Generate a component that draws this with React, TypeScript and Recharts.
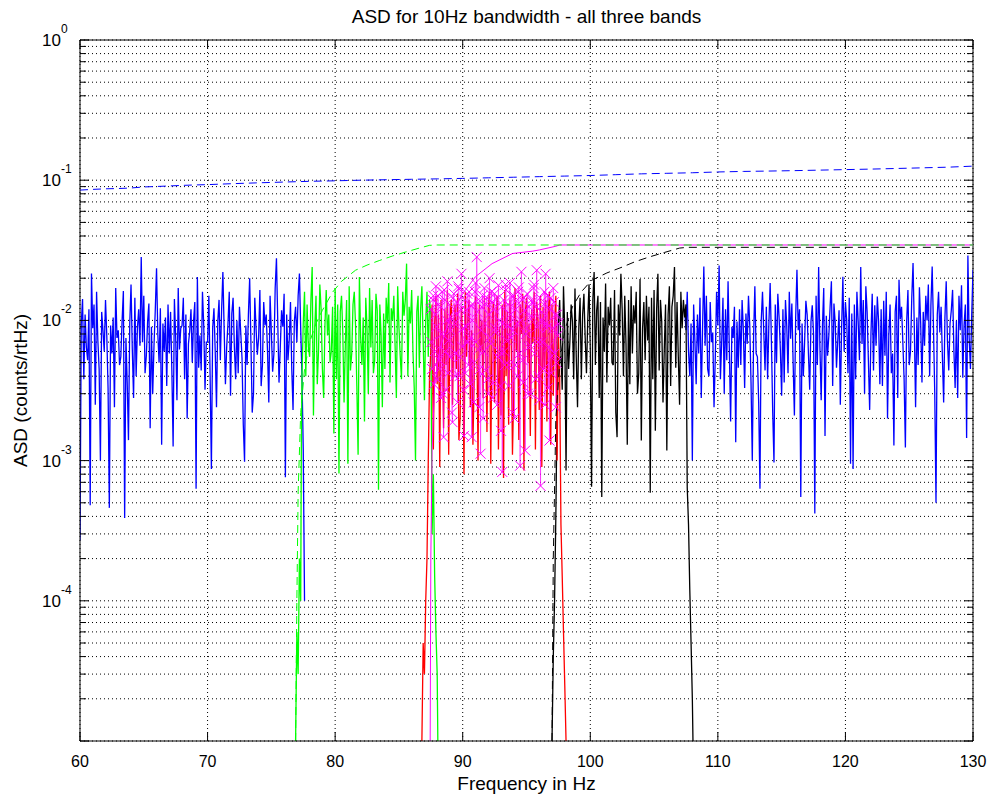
import { LineChart, Line, XAxis, YAxis, CartesianGrid, ReferenceLine } from "recharts";

// ASD values are typed in units of 1e-4 counts/rtHz, one bin every 0.1 Hz
const STEP = 0.1;

const BLUE_LO_START = 60.0;
const BLUE_LO = [
  2.7, 95, 142, 38, 110, 64, 52, 120, 4.8, 216,
  88, 130, 25, 160, 72, 45, 10, 115, 85, 60,
  140, 78, 33, 4.6, 92, 58, 105, 24, 170, 75,
  85, 48, 55, 100, 162, 3.9, 75, 36, 14, 95,
  180, 62, 28, 145, 40, 88, 120, 66, 283, 70,
  150, 42, 56, 98, 132, 17, 90, 30, 66, 118,
  235, 80, 50, 122, 13, 95, 60, 105, 34, 130,
  58, 115, 44, 12.6, 142, 76, 27, 170, 62, 88,
  92, 145, 38, 110, 20, 68, 84, 120, 50, 98,
  135, 6.3, 204, 46, 78, 44, 160, 92, 32, 70,
  70, 150, 40, 8.7, 88, 122, 60, 24, 98, 140,
  52, 118, 221, 86, 35, 65, 95, 160, 29, 112,
  145, 65, 38, 100, 42, 125, 82, 54, 18, 9.8,
  92, 48, 110, 200, 68, 22, 30, 145, 88, 57,
  75, 165, 34, 48, 135, 92, 110, 60, 26, 150,
  82, 43, 58, 170, 277, 100, 36, 64, 118, 90,
  155, 7.6, 110, 52, 72, 135, 45, 23, 98, 125,
  70, 150, 216, 88, 40, 12, 1,
];

const BLUE_HI_START = 107.4;
const BLUE_HI = [
  120, 85, 160, 60, 40, 95, 10, 130, 72, 35,
  110, 58, 145, 28, 88, 242, 66, 150, 45, 40,
  135, 70, 82, 24, 55, 160, 92, 246, 38, 70,
  145, 30, 120, 52, 190, 62, 19, 90, 75, 125,
  13.5, 98, 46, 120, 48, 140, 85, 33, 112, 68,
  150, 92, 36, 10, 76, 175, 58, 55, 26, 6.3,
  100, 160, 82, 44, 125, 38, 95, 185, 70, 22,
  9.7, 130, 50, 155, 105, 62, 29, 120, 36, 140,
  92, 42, 160, 74, 132, 50, 21, 105, 230, 85,
  120, 5.5, 95, 40, 70, 138, 110, 58, 32, 98,
  128, 80, 4.2, 150, 48, 240, 65, 27, 92, 170,
  15, 108, 56, 78, 125, 190, 34, 132, 96, 46,
  72, 118, 25, 88, 205, 60, 135, 100, 42, 145,
  9.5, 112, 8.7, 130, 38, 160, 98, 52, 240, 68,
  140, 30, 175, 115, 52, 23, 80, 155, 44, 128,
  66, 148, 98, 35, 120, 34, 138, 56, 160, 20,
  78, 130, 42, 58, 12.8, 115, 150, 28, 195, 102,
  125, 70, 38, 12.4, 98, 165, 48, 60, 145, 257,
  88, 24, 105, 48, 172, 95, 36, 115, 66, 150,
  100, 180, 40, 128, 242, 90, 31, 5.0, 110, 160,
  82, 125, 55, 26, 105, 190, 70, 44, 95, 118,
  165, 62, 33, 100, 28, 150, 85, 178, 39, 92,
  130, 14.5, 290, 75, 45, 110, 230,
];

// band 1: 77.5 - 87.5 Hz
const GREEN_START = 77.5;
const GREEN = [
  95, 160, 40, 130, 65, 55, 140, 240, 21, 88,
  150, 35, 62, 180, 120, 45, 28, 92, 165, 78,
  110, 50, 60, 125, 15.6, 170, 38, 130, 8.1, 115,
  150, 82, 26, 68, 140, 9.5, 175, 44, 58, 130,
  160, 92, 34, 11, 204, 76, 48, 105, 19, 145,
  88, 30, 170, 64, 140, 42, 52, 155, 118, 6.2,
  130, 80, 24, 112, 45, 145, 95, 185, 36, 122,
  100, 150, 66, 28, 175, 90, 56, 38, 160, 108,
  140, 254, 40, 125, 95, 165, 60, 33, 10, 115,
  150, 46, 120, 175, 72, 27, 100, 160, 55, 140,
  110,
];
const GREEN_RISE = [[76.9, 0.1], [77.0, 0.6], [77.1, 0.3], [77.2, 2], [77.3, 1], [77.35, 12], [77.4, 40]];
const GREEN_FALL = [[87.6, 3], [87.7, 8], [87.8, 1.5], [87.9, 0.6], [88.0, 0.3], [88.05, 0.1]];

// band 2: 87.5 - 97.5 Hz
const RED_START = 87.5;
const RED = [
  60, 130, 12, 95, 150, 35, 110, 9, 140, 75,
  17, 120, 48, 165, 11, 100, 140, 25, 88, 130,
  45, 155, 14, 20, 125, 70, 8, 160, 55, 105,
  140, 24, 85, 13, 38, 150, 95, 10, 130, 60,
  100, 28, 145, 72, 16, 120, 160, 9.5, 95, 135,
  26, 110, 150, 12, 90, 21, 130, 7.5, 165, 40,
  115, 18, 140, 85, 11, 32, 170, 60, 100, 14,
  130, 80, 155, 8.5, 110, 145, 50, 95, 15, 120,
  70, 160, 12, 135, 100, 23, 150, 9, 125, 45,
  140, 19, 110, 160, 13, 130, 29, 95, 150, 10,
  80,
];
const RED_RISE = [[86.8, 0.1], [86.9, 0.5], [87.0, 0.3], [87.1, 1], [87.2, 2], [87.3, 10], [87.4, 40]];
const RED_FALL = [[97.6, 40], [97.7, 3.5], [97.8, 1.5], [97.9, 0.6], [98.0, 0.25], [98.1, 0.1]];

// magenta x-marked samples on the 0.1 Hz bins and half way between them
const MAGENTA_START = 87.5;
const MAGENTA = [
  120, 45, 150, 60, 175, 38, 130, 45, 28, 160,
  14.7, 140, 32, 190, 72, 55, 105, 18.8, 155, 40,
  135, 26, 168, 55, 215, 88, 15, 42, 118, 70,
  160, 35, 14.7, 130, 50, 185, 283, 62, 24, 11.2,
  125, 20, 170, 44, 145, 30, 200, 68, 135, 36,
  155, 82, 25, 178, 60, 16.3, 8.3, 140, 48, 165,
  92, 34, 185, 75, 22, 150, 48, 138, 40, 172,
  9.2, 222, 52, 145, 11.8, 88, 30, 125, 66, 140,
  105, 180, 38, 228, 70, 27, 6.6, 115, 45, 160,
  215, 88, 33, 13.9, 145, 56, 170, 58, 24, 110,
  95,
];
const MAGENTA_MID_START = 87.55;
const MAGENTA_MID = [
  70, 140, 35, 110, 90, 150, 52, 125, 80, 30,
  165, 60, 100, 42, 130, 85, 22, 145, 95, 58,
  110, 175, 40, 120, 65, 32, 140, 90, 155, 48,
  75, 128, 100, 26, 160, 70, 115, 44, 138, 85,
  150, 60, 95, 130, 38, 110, 75, 160, 28, 120,
  88, 142, 55, 100, 34, 125, 95, 60, 180, 72,
  130, 48, 110, 150, 85, 20, 120, 95, 160, 58,
  100, 140, 36, 118, 80, 155, 64, 105, 30, 135,
  170, 58, 125, 90, 40, 145, 100, 70, 130, 25,
  95, 150, 65, 120, 42, 88, 135, 110, 50, 78,
];

// band 3: 97.5 - 107.5 Hz
const BLACK_START = 97.5;
const BLACK = [
  95, 140, 60, 32, 175, 85, 8.5, 115, 45, 70,
  130, 98, 38, 169, 55, 24, 90, 145, 38, 110,
  155, 75, 42, 100, 180, 62, 6.5, 140, 221, 48,
  118, 150, 28, 135, 5.5, 105, 60, 183, 36, 125,
  92, 145, 50, 48, 165, 22, 14.7, 130, 78, 215,
  120, 40, 150, 68, 13, 140, 35, 175, 58, 128,
  95, 160, 30, 42, 197, 13.9, 88, 135, 52, 150,
  72, 125, 5.9, 145, 38, 165, 16.3, 120, 215, 44,
  140, 98, 26, 62, 130, 11.8, 110, 175, 34, 125,
  150, 240, 46, 135, 55, 25, 160, 88, 140, 105,
  130,
];
const BLACK_RISE = [[97.0, 0.1], [97.1, 0.4], [97.2, 1], [97.3, 4], [97.4, 25]];
const BLACK_FALL = [[107.6, 6.4], [107.7, 3.5], [107.8, 1.2], [107.9, 0.5], [108.0, 0.2], [108.05, 0.1]];

// cumulative curves (dashed)
const BLUE_CUM = [
  [60, 850], [61, 860], [62, 868], [63, 872], [64, 880], [65, 895], [66, 902], [67, 910], [68, 918],
  [69, 925], [70, 930], [72, 945], [74, 958], [76, 970], [78, 982], [80, 990], [82, 1000], [84, 1008],
  [86, 1015], [88, 1022], [90, 1030], [92, 1040], [94, 1050], [96, 1060], [98, 1070], [100, 1080],
  [102, 1095], [104, 1110], [106, 1120], [108, 1130], [110, 1145], [112, 1155], [114, 1162], [116, 1170],
  [118, 1180], [120, 1190], [122, 1200], [124, 1212], [126, 1225], [128, 1238], [130, 1260],
];
const GREEN_CUM = [
  [76.9, 0.1], [77.0, 1], [77.1, 6], [77.3, 22], [77.6, 45], [78, 70], [78.5, 95], [79, 118], [79.8, 159],
  [80.5, 190], [81.6, 228], [82.5, 248], [83.5, 268], [84.5, 288], [85.5, 307], [86.5, 326], [87.4, 343],
  [88, 345], [130, 345],
];
const MAGENTA_CUM = [
  [87.45, 0.1], [87.5, 2], [87.6, 12], [87.8, 35], [88.2, 62], [89, 105], [90, 155], [91, 205], [92.3, 254],
  [93.9, 300], [95.5, 312], [96, 318], [97.3, 338], [97.6, 345], [130, 345],
];
const BLACK_CUM = [
  [97.0, 0.1], [97.1, 2], [97.3, 20], [97.6, 50], [98, 85], [98.6, 125], [99.3, 160], [100.1, 193],
  [101.3, 218], [102.5, 240], [103.5, 262], [104.6, 283], [105.8, 305], [107, 328], [107.6, 332], [130, 332],
];

const X_TICKS = [60, 70, 80, 90, 100, 110, 120, 130];
const Y_DECADES = [-5, -4, -3, -2, -1];
const Y_MINOR = [2, 3, 4, 5, 6, 7, 8, 9];
const Y_TICKS = [...Y_DECADES.flatMap((d) => [10 ** d, ...Y_MINOR.map((m) => m * 10 ** d)]), 1];

const UNIT = 1e-4;
const bins = (start: number, vals: number[]) =>
  vals.map((v, i) => ({ f: +(start + i * STEP).toFixed(2), v: v * UNIT }));
const pairs = (p: number[][]) => p.map(([f, v]) => ({ f, v: v * UNIT }));

const W = 992;
const H = 794;
const PLOT_LEFT = 80;
const PLOT_RIGHT = 973;
const PLOT_TOP = 40;
const X_AXIS_H = 53;
const PLOT_BOTTOM = H - X_AXIS_H;
const FONT = '"Liberation Sans", Arial, Helvetica, sans-serif';

function XTick({ x, payload }: any) {
  return (
    <g>
      <line x1={x} y1={PLOT_BOTTOM} x2={x} y2={PLOT_BOTTOM - 9} stroke="#000" />
      <line x1={x} y1={PLOT_TOP} x2={x} y2={PLOT_TOP + 9} stroke="#000" />
      <text x={x} y={PLOT_BOTTOM + 26} textAnchor="middle" fontSize={16} fontFamily={FONT} fill="#000">
        {payload.value}
      </text>
    </g>
  );
}

function YTick({ y, payload }: any) {
  const lg = Math.log10(payload.value);
  const major = Math.abs(lg - Math.round(lg)) < 1e-6;
  const len = major ? 9 : 6;
  const exp = Math.round(lg);
  return (
    <g>
      <line x1={PLOT_LEFT} y1={y} x2={PLOT_LEFT + len} y2={y} stroke="#000" />
      <line x1={PLOT_RIGHT} y1={y} x2={PLOT_RIGHT - len} y2={y} stroke="#000" />
      {major && exp > -5 && (
        <text x={42} y={y + 6} fontSize={17} fontFamily={FONT} fill="#000">
          10
          <tspan dy={-13} fontSize={12}>{exp}</tspan>
        </text>
      )}
    </g>
  );
}

function XMark({ cx, cy }: any) {
  if (cx == null || cy == null) return null;
  return (
    <g stroke="#ff00ff" strokeWidth={1}>
      <line x1={cx - 5} y1={cy - 5} x2={cx + 5} y2={cy + 5} />
      <line x1={cx - 5} y1={cy + 5} x2={cx + 5} y2={cy - 5} />
    </g>
  );
}

export default function App() {
  const blueLo = bins(BLUE_LO_START, BLUE_LO);
  const blueHi = bins(BLUE_HI_START, BLUE_HI);
  const green = [...pairs(GREEN_RISE), ...bins(GREEN_START, GREEN), ...pairs(GREEN_FALL)];
  const red = [...pairs(RED_RISE), ...bins(RED_START, RED), ...pairs(RED_FALL)];
  const magenta = [...bins(MAGENTA_START, MAGENTA), ...bins(MAGENTA_MID_START, MAGENTA_MID)].sort((a, b) => a.f - b.f);
  const black = [...pairs(BLACK_RISE), ...bins(BLACK_START, BLACK), ...pairs(BLACK_FALL)];

  const line = { type: "linear" as const, dataKey: "v", dot: false, strokeWidth: 1, isAnimationActive: false };
  const noise = { ...line, strokeWidth: 1.3 };

  return (
    <div style={{ position: "absolute", left: 0, top: 0, width: W, height: H, background: "#fff" }}>
      <LineChart width={W} height={H} margin={{ top: PLOT_TOP, right: W - PLOT_RIGHT, bottom: 0, left: 0 }}>
        <CartesianGrid stroke="#000" strokeDasharray="1 3" />
        <XAxis
          type="number"
          dataKey="f"
          domain={[60, 130]}
          ticks={X_TICKS}
          interval={0}
          height={X_AXIS_H}
          allowDataOverflow
          tickSize={0}
          tickMargin={0}
          tickLine={false}
          axisLine={{ stroke: "#000" }}
          tick={<XTick />}
        />
        <YAxis
          type="number"
          scale="log"
          domain={[1e-5, 1]}
          ticks={Y_TICKS}
          interval={0}
          width={PLOT_LEFT}
          allowDataOverflow
          tickSize={0}
          tickMargin={0}
          tickLine={false}
          axisLine={{ stroke: "#000" }}
          tick={<YTick />}
        />
        <ReferenceLine x={130} stroke="#000" />
        <ReferenceLine y={1} stroke="#000" />
        <Line {...noise} data={blueLo} stroke="#0000ff" />
        <Line {...noise} data={blueHi} stroke="#0000ff" />
        <Line {...noise} data={green} stroke="#00ff00" />
        <Line {...noise} data={black} stroke="#000000" />
        <Line {...noise} data={red} stroke="#ff0000" />
        <Line
          {...line}
          data={magenta}
          stroke="#ff00ff"
          strokeOpacity={0.55}
          dot={(p: any) => <XMark key={`m${p.index}`} cx={p.cx} cy={p.cy} />}
        />
        <Line {...line} data={pairs(BLUE_CUM)} stroke="#0000ff" strokeDasharray="8 5" />
        <Line {...line} data={pairs(MAGENTA_CUM)} stroke="#ff00ff" />
        <Line {...line} data={pairs(GREEN_CUM)} stroke="#00ff00" strokeDasharray="8 5" />
        <Line {...line} data={pairs(BLACK_CUM)} stroke="#000000" strokeDasharray="8 5" />
      </LineChart>
      <svg width={W} height={H} style={{ position: "absolute", left: 0, top: 0, pointerEvents: "none" }}>
        <text x={(PLOT_LEFT + PLOT_RIGHT) / 2} y={23} textAnchor="middle" fontSize={19} fontFamily={FONT} fill="#000">
          ASD for 10Hz bandwidth - all three bands
        </text>
        <text x={(PLOT_LEFT + PLOT_RIGHT) / 2} y={790} textAnchor="middle" fontSize={19} fontFamily={FONT} fill="#000">
          Frequency in Hz
        </text>
        <text
          x={27}
          y={(PLOT_TOP + PLOT_BOTTOM) / 2}
          textAnchor="middle"
          fontSize={19}
          fontFamily={FONT}
          fill="#000"
          transform={`rotate(-90 27 ${(PLOT_TOP + PLOT_BOTTOM) / 2})`}
        >
          ASD (counts/rtHz)
        </text>
      </svg>
    </div>
  );
}
